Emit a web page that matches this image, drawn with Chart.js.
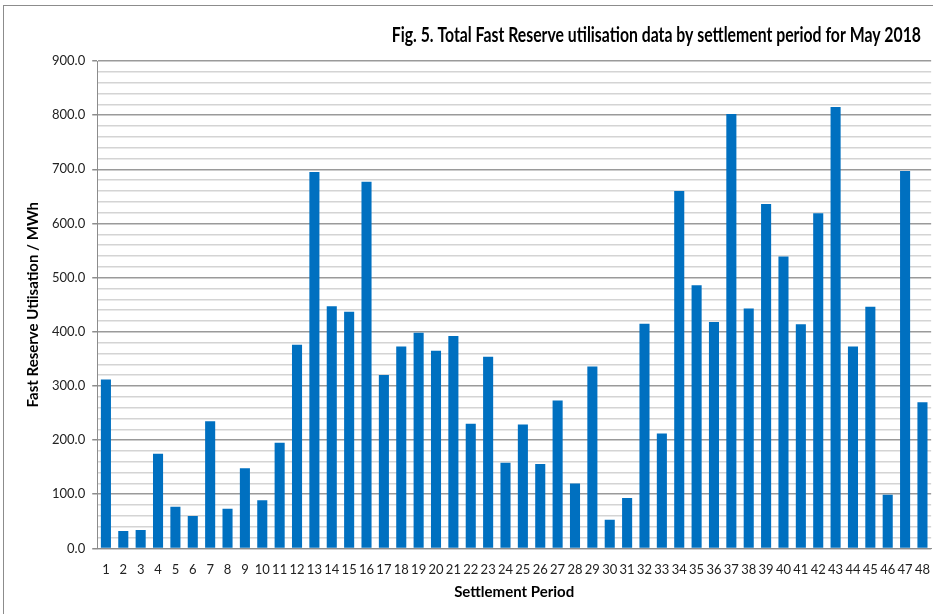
<!DOCTYPE html>
<html>
<head>
<meta charset="utf-8">
<script src="https://cdn.jsdelivr.net/npm/chart.js@4"></script>
<style>
  html, body { margin: 0; padding: 0; background: #fff; overflow: hidden; }
  #wrap { width: 933px; height: 614px; position: relative; overflow: hidden; }
</style>
</head>
<body>
<div id="wrap"><canvas id="frChart" width="944" height="614"></canvas></div>
<script>
// settlement periods 1..48
const periods = [];
for (let i = 1; i <= 48; i++) periods.push(String(i));

// Fast reserve utilisation (MWh)
const utilisation = [
  312, 32, 34, 175, 77, 60, 235, 73, 148, 89,
  195, 376, 695, 447, 437, 677, 320, 373, 398, 365,
  392, 230, 354, 158, 229, 156, 273, 120, 336, 53,
  93, 415, 212, 660, 486, 418, 802, 443, 636, 539,
  414, 619, 815, 373, 446, 99, 697, 270
];

const chartTitle = "Fig. 5. Total Fast Reserve utilisation data by settlement period for May 2018";
const yMin = 0, yMax = 900, yMinorStep = 20, yMajorStep = 100;
const face = "Lato, 'Open Sans', sans-serif";

// frame around the chart + a condensed title (the original uses a narrow font)
const framePlugin = {
  id: "frame",
  beforeDraw(chart) {
    const ctx = chart.ctx;
    ctx.save();
    ctx.fillStyle = "#fff";
    ctx.fillRect(0, 0, chart.width, chart.height);
    ctx.strokeStyle = "#8c8c8c";
    ctx.lineWidth = 1;
    ctx.strokeRect(3.5, 5.5, 960, 640);
    ctx.restore();
  },
  afterDraw(chart) {
    const ctx = chart.ctx;
    ctx.save();
    ctx.translate(921, 36);
    ctx.scale(0.79, 1);
    ctx.font = "bold 20px " + face;
    ctx.fillStyle = "#000";
    ctx.textAlign = "right";
    ctx.textBaseline = "middle";
    ctx.fillText(chartTitle, 0, 0);
    ctx.restore();
  }
};

const ctx = document.getElementById("frChart").getContext("2d");
new Chart(ctx, {
  type: "bar",
  data: {
    labels: periods,
    datasets: [{
      label: "Fast Reserve",
      data: utilisation,
      backgroundColor: "#0070C0",
      borderWidth: 0,
      barPercentage: 0.58,
      categoryPercentage: 1.0
    }]
  },
  options: {
    responsive: false,
    animation: false,
    layout: { padding: { left: 24, right: 0, top: 61, bottom: 13 } },
    plugins: {
      legend: { display: false },
      tooltip: { enabled: false },
      title: { display: false }
    },
    scales: {
      x: {
        grid: { display: false, drawTicks: false },
        border: { color: "#8c8c8c" },
        ticks: {
          color: "#222",
          font: { family: face, size: 13 },
          maxRotation: 0,
          autoSkip: false,
          padding: 14
        },
        title: {
          display: true,
          text: "Settlement Period",
          color: "#000",
          font: { family: face, size: 15, weight: "bold" },
          padding: { top: -9, bottom: 0 }
        }
      },
      y: {
        min: yMin,
        max: yMax,
        ticks: {
          stepSize: yMinorStep,
          autoSkip: false,
          color: "#222",
          font: { family: face, size: 13 },
          padding: 7,
          callback: (v) => (v % yMajorStep === 0 ? Number(v).toFixed(1) : "")
        },
        grid: {
          color: (c) => (c.tick && c.tick.value % yMajorStep === 0 ? "#9a9a9a" : "#d4d4d4"),
          lineWidth: 1.5,
          tickLength: 5,
          tickColor: (c) => (c.tick && c.tick.value % yMajorStep === 0 ? "#8c8c8c" : "rgba(0,0,0,0)")
        },
        border: { color: "#8c8c8c" },
        title: {
          display: true,
          text: "Fast Reserve Utiisation / MWh",
          color: "#000",
          font: { family: face, size: 15, weight: "bold" },
          padding: { top: 0, bottom: 3 }
        }
      }
    }
  },
  plugins: [framePlugin]
});
</script>
</body>
</html>
